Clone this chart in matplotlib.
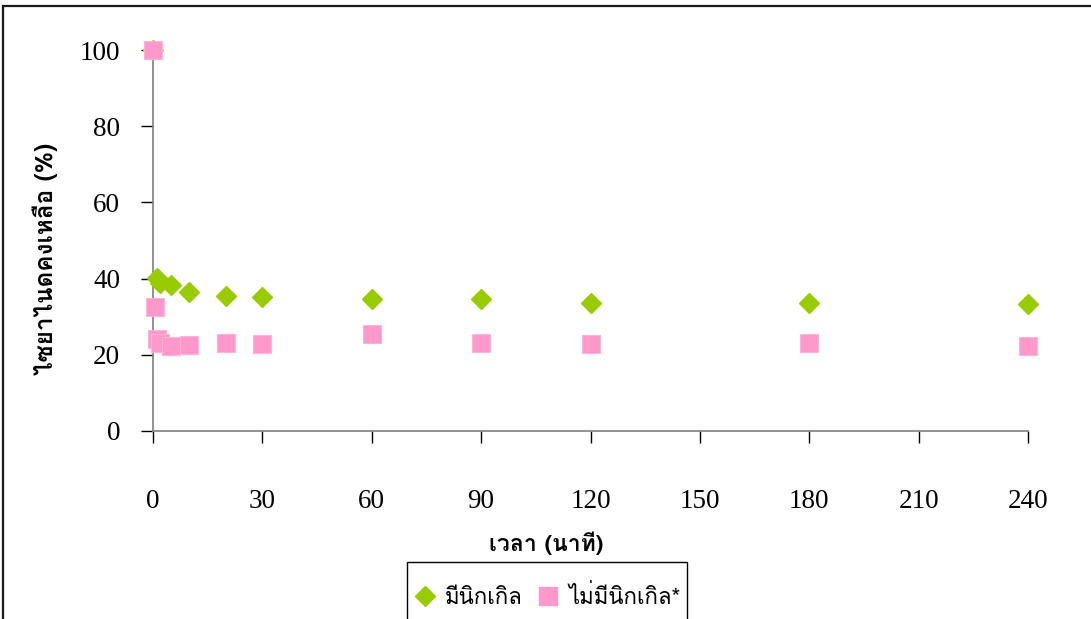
import matplotlib
matplotlib.use("Agg")
import matplotlib.pyplot as plt
from matplotlib import font_manager
from matplotlib.ft2font import FT2Font
from matplotlib.patches import Rectangle
from matplotlib.lines import Line2D

# Remaining cyanide (%) over time (minutes)
time_nickel = [0, 1, 2, 5, 10, 20, 30, 60, 90, 120, 180, 240]
cn_nickel = [100, 40.2, 38.9, 38.3, 36.4, 35.5, 35.1, 34.6, 34.6, 33.7, 33.7, 33.3]

time_no_nickel = [0, 0.5, 1, 2, 5, 10, 20, 30, 60, 90, 120, 180, 240]
cn_no_nickel = [100, 32.5, 24.1, 23.0, 22.3, 22.6, 23.2, 22.8, 25.5, 23.2, 22.8, 23.2, 22.3]

x_ticks = [0, 30, 60, 90, 120, 150, 180, 210, 240]
y_ticks = [0, 20, 40, 60, 80, 100]

series_labels = ["มีนิกเกิล", "ไม่มีนิกเกิล*"]
x_title = "เวลา (นาที)"
y_title = "ไซยาไนดคงเหลือ (%)"


def find_thai_family():
    names = []
    for f in font_manager.fontManager.ttflist:
        try:
            cmap = FT2Font(f.fname).get_charmap()
        except Exception:
            continue
        if 0x0E44 in cmap and 0x0E19 in cmap:
            names.append(f.name)
    pref = [n for n in names if "Serif" in n or "Angsana" in n or "Loma" in n]
    if pref:
        return pref[0]
    return names[0] if names else "DejaVu Sans"


thai = find_thai_family()
serif = "Liberation Serif"
thai_fam = [thai, serif, "DejaVu Sans"]

W, H, DPI = 1091, 619, 100
fig = plt.figure(figsize=(W / DPI, H / DPI), dpi=DPI)
fig.patch.set_facecolor("white")

# outer chart frame (only left and top edges fall inside the canvas)
fig.patches.append(Rectangle((3 / W, -0.1), 1.2, (H - 6) / H + 0.1,
                             transform=fig.transFigure, fill=False,
                             edgecolor="#1a1a1a", linewidth=1.6))

ax = fig.add_axes([153 / W, 1 - 431 / H, (1028 - 153) / W, (431 - 50) / H])
ax.set_xlim(0, 240)
ax.set_ylim(0, 100)

green = "#99CC00"
pink = "#FF99CC"
ax.plot(time_nickel, cn_nickel, linestyle="none", marker="D", markersize=10,
        color=green, markeredgecolor=green, clip_on=False, zorder=3)
ax.plot(time_no_nickel, cn_no_nickel, linestyle="none", marker="s", markersize=12.5,
        color=pink, markeredgecolor="#FFB3D9", markeredgewidth=0.8,
        clip_on=False, zorder=4)

for side in ("top", "right"):
    ax.spines[side].set_visible(False)
for side in ("left", "bottom"):
    ax.spines[side].set_color("#7f7f7f")
    ax.spines[side].set_linewidth(1.2)

ax.set_xticks(x_ticks)
ax.set_yticks(y_ticks)
ax.tick_params(axis="both", direction="out", length=8.5, width=1.0, color="black")
ax.tick_params(axis="x", pad=33)
ax.tick_params(axis="y", pad=15)
for lab in ax.get_xticklabels() + ax.get_yticklabels():
    lab.set_fontfamily(serif)
    lab.set_fontsize(19.5)

fig.text(546 / W, 1 - 543 / H, x_title, ha="center", va="center",
         fontsize=16.5, fontweight="bold", family=thai_fam)
fig.text(45 / W, 1 - 259 / H, y_title, ha="center", va="center", rotation=90,
         fontsize=17.5, fontweight="bold", family=thai_fam)

# legend box runs past the bottom edge of the canvas
fig.patches.append(Rectangle((407 / W, -0.1), (687 - 407) / W, 0.1 + (H - 562) / H,
                             transform=fig.transFigure, fill=False,
                             edgecolor="black", linewidth=1.0))

handles = [
    Line2D([], [], linestyle="none", marker="D", markersize=10, color=green),
    Line2D([], [], linestyle="none", marker="s", markersize=12.5, color=pink),
]
leg = fig.legend(handles, series_labels, loc="center left",
                 bbox_to_anchor=(416 / W, 1 - 597 / H), ncol=2,
                 frameon=False, handlelength=0.8,
                 handletextpad=0.5, columnspacing=0.75, borderpad=0.0,
                 borderaxespad=0.0,
                 prop={"family": thai_fam, "size": 16})

fig.savefig("out.png", dpi=DPI, facecolor="white")
